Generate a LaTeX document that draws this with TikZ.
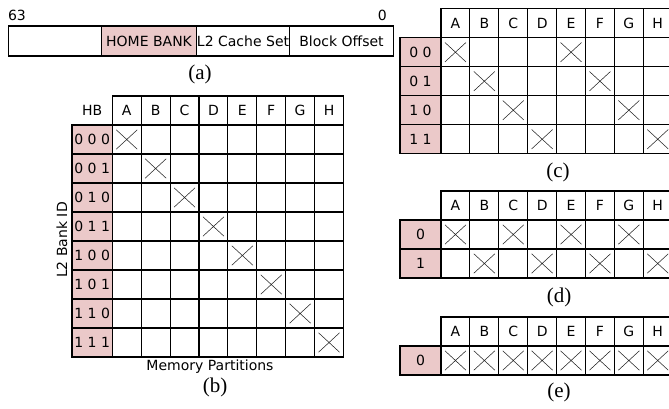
\documentclass[tikz,border=0pt]{standalone}
\usepackage{fontspec}
\setmainfont{Liberation Serif}
\newfontfamily\dvsans{DejaVu Sans}
\definecolor{hbpink}{RGB}{235,201,201}
\newcommand\gfont{\dvsans\fontsize{14}{17}\selectfont}
\newcommand\capfont{\fontsize{21}{25}\selectfont}
\newcommand\crossin[1]{%
  \draw[xmark] ([shift={(-10.5,-9.7)}]#1.center) -- ([shift={(10.5,9.7)}]#1.center)
               ([shift={(-10.5,9.7)}]#1.center) -- ([shift={(10.5,-9.7)}]#1.center);}
\begin{document}
\begin{tikzpicture}[x=1pt,y=-1pt,
  cell/.style={draw, line width=1.1pt, minimum width=28.9pt, minimum height=29pt, inner sep=0pt, font=\gfont},
  hbcell/.style={cell, fill=hbpink},
  plain/.style={inner sep=0pt, font=\gfont},
  capt/.style={inner sep=0pt, font=\capfont},
  xmark/.style={line width=0.55pt, black!85},
  barpart/.style={draw, line width=1.1pt, minimum height=30pt, inner sep=0pt, font=\gfont, anchor=west}
]
\useasboundingbox (0,0) rectangle (669,409);
\clip (0,0) rectangle (669,409);

% ---------- (a) ----------
\node[barpart, minimum width=93pt] (a-free) at (8,41) {};
\node[barpart, minimum width=95pt, fill=hbpink] (a-home) at (101,41) {HOME BANK};
\node[barpart, minimum width=93pt] (a-set) at (196,41) {L2 Cache Set};
\node[barpart, minimum width=104pt] (a-off) at (289,41) {Block Offset};
\node[plain] (a-63) at (17,15) {63};
\node[plain, anchor=east] (a-0) at (387,15) {0};
\node[capt] (a-cap) at (200,74) {(a)};

% ---------- (b) ----------
\node[plain] (b-hb) at (92.15,110.5) {HB};
\foreach \lab [count=\j from 0] in {A,B,C,D,E,F,G,H} {
  \node[cell] (bh-\j) at ({112.3+28.9*(\j+0.5)},110.5) {\lab};
}
\foreach \lab [count=\i from 0] in {0 0 0,0 0 1,0 1 0,0 1 1,1 0 0,1 0 1,1 1 0,1 1 1} {
  \node[hbcell, minimum width=40.3pt] (bp-\i) at (92.15,{139.5+29*\i}) {\lab};
  \foreach \j in {0,...,7} {
    \node[cell] (b-\i-\j) at ({112.3+28.9*(\j+0.5)},{139.5+29*\i}) {};
  }
  \crossin{b-\i-\i}
}
\node[plain, rotate=90] (b-yl) at (62,240) {L2 Bank ID};
\node[plain] (b-xl) at (210,367) {Memory Partitions};
\node[capt] (b-cap) at (215,387) {(b)};

% ---------- (c) ----------
\foreach \lab [count=\j from 0] in {A,B,C,D,E,F,G,H} {
  \node[cell] (ch-\j) at ({441+28.9*(\j+0.5)},23.2) {\lab};
}
\foreach \lab [count=\i from 0] in {0 0,0 1,1 0,1 1} {
  \node[hbcell, minimum width=41pt] (cp-\i) at (420.5,{52.2+29*\i}) {\lab};
  \foreach \j in {0,...,7} {
    \node[cell] (c-\i-\j) at ({441+28.9*(\j+0.5)},{52.2+29*\i}) {};
  }
  \pgfmathtruncatemacro\k{\i+4}
  \crossin{c-\i-\i}
  \crossin{c-\i-\k}
}
\node[capt] (c-cap) at (558,172) {(c)};

% ---------- (d) ----------
\foreach \lab [count=\j from 0] in {A,B,C,D,E,F,G,H} {
  \node[cell] (dh-\j) at ({441+28.9*(\j+0.5)},205.5) {\lab};
}
\foreach \lab [count=\i from 0] in {0,1} {
  \node[hbcell, minimum width=41pt] (dp-\i) at (420.5,{234.5+29*\i}) {\lab};
  \foreach \j in {0,...,7} {
    \node[cell] (d-\i-\j) at ({441+28.9*(\j+0.5)},{234.5+29*\i}) {};
  }
}
\foreach \j in {0,2,4,6} {\crossin{d-0-\j}}
\foreach \j in {1,3,5,7} {\crossin{d-1-\j}}
\node[capt] (d-cap) at (559,297) {(d)};

% ---------- (e) ----------
\foreach \lab [count=\j from 0] in {A,B,C,D,E,F,G,H} {
  \node[cell] (eh-\j) at ({441+28.9*(\j+0.5)},331.5) {\lab};
}
\node[hbcell, minimum width=41pt] (ep-0) at (420.5,360.5) {0};
\foreach \j in {0,...,7} {
  \node[cell] (e-0-\j) at ({441+28.9*(\j+0.5)},360.5) {};
  \crossin{e-0-\j}
}
\node[capt] (e-cap) at (559,392) {(e)};
\end{tikzpicture}
\end{document}
